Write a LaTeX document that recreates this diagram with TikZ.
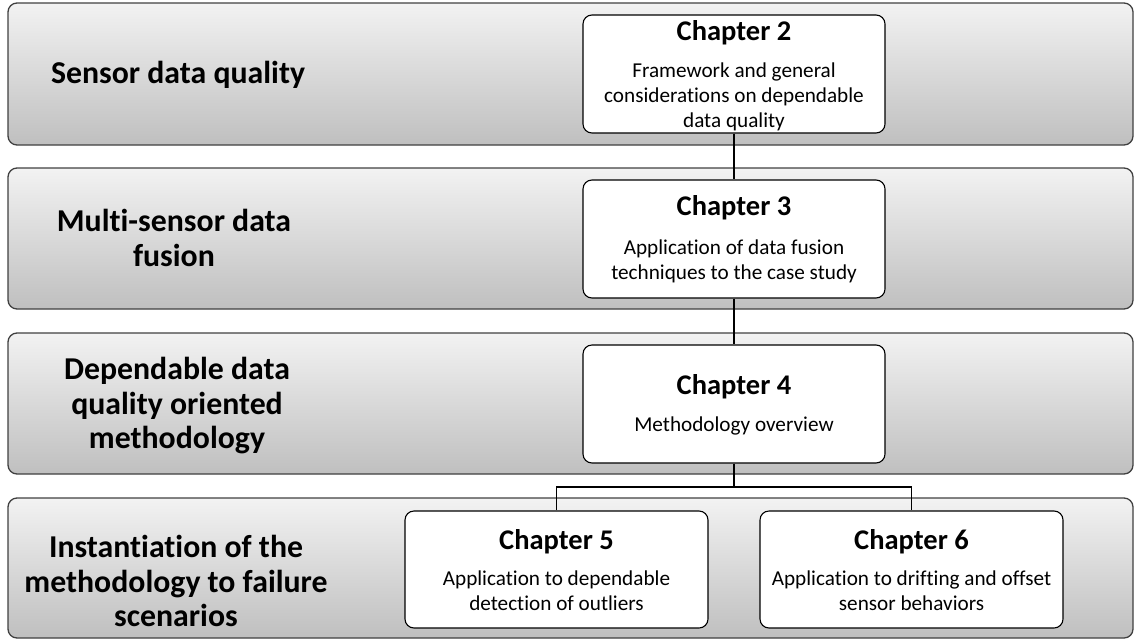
\documentclass[tikz,border=0pt]{standalone}
\usepackage{fontspec}
\setmainfont{Carlito}[Ligatures=NoCommon]
\begin{document}
\begin{tikzpicture}[x=1pt,y=-1pt,
  band/.style={draw=black!75,line width=1.3pt,rounded corners=9pt,top color=black!5,bottom color=black!25},
  chbox/.style={draw=black,line width=1.1pt,rounded corners=9pt,fill=white,inner sep=0pt},
  lbl/.style={align=center,font=\bfseries\fontsize{31.8}{34.5}\selectfont},
  ttl/.style={font=\bfseries\fontsize{28.5}{32}\selectfont,inner sep=0pt},
  body/.style={align=center,font=\fontsize{21.2}{25}\selectfont,inner sep=0pt},
  conn/.style={draw=black,line width=1.3pt}]
\useasboundingbox (0,0) rectangle (1134,640);
% bands
\path[band] (8,3) rectangle (1133,145);
\path[band] (8,168) rectangle (1133,309);
\path[band] (8,333) rectangle (1133,474);
\path[band] (8,498) rectangle (1133,638);
% left labels
\node[lbl] (l1) at (178,75) {Sensor data quality};
\node[lbl] (l2) at (174,238) {Multi-sensor data\\fusion};
\node[lbl] (l3) at (177,406) {Dependable data\\quality oriented\\methodology};
\node[lbl] (l4) at (176,581) {Instantiation of the\\methodology to failure\\scenarios};
% chapter boxes
\node[chbox,minimum width=302pt,minimum height=118pt] (c2) at (734,74) {};
\node[chbox,minimum width=302pt,minimum height=118pt] (c3) at (734,239) {};
\node[chbox,minimum width=302pt,minimum height=118pt] (c4) at (734,404) {};
\node[chbox,minimum width=303pt,minimum height=117pt] (c5) at (556.5,569.5) {};
\node[chbox,minimum width=303pt,minimum height=117pt] (c6) at (911.5,569.5) {};
% chapter texts
\node[ttl] (t2) at (734,33) {Chapter 2};
\node[body] (b2) at (734,97) {Framework and general\\considerations on dependable\\data quality};
\node[ttl] (t3) at (734,208) {Chapter 3};
\node[body] (b3) at (734,261) {Application of data fusion\\techniques to the case study};
\node[ttl] (t4) at (734,387) {Chapter 4};
\node[body] (b4) at (734,426) {Methodology overview};
\node[ttl] (t5) at (556.5,542) {Chapter 5};
\node[body] (b5) at (556.5,590.5) {Application to dependable\\detection of outliers};
\node[ttl] (t6) at (911.5,542) {Chapter 6};
\node[body] (b6) at (911.5,590.5) {Application to drifting and offset\\sensor behaviors};
% connectors
\coordinate (j) at (734,487);
\draw[conn] (c2.south) -- (c3.north);
\draw[conn] (c3.south) -- (c4.north);
\draw[conn] (c4.south) -- (j);
\draw[conn] (c5.north) |- (j) -| (c6.north);
\end{tikzpicture}
\end{document}
